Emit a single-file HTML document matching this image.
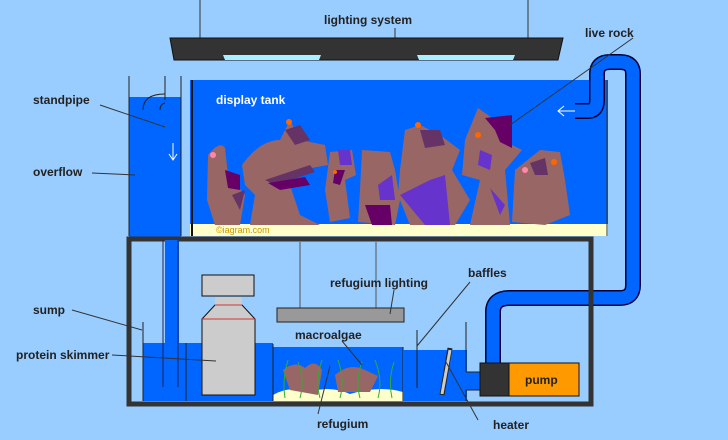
<!DOCTYPE html>
<html><head><style>
html,body{margin:0;padding:0;background:#99ccff;}
svg{display:block}
text{font-family:"Liberation Sans",sans-serif;font-weight:bold;font-size:12px;fill:#222}
</style></head><body>
<svg width="728" height="440" viewBox="0 0 728 440" xmlns="http://www.w3.org/2000/svg">
<rect width="728" height="440" fill="#99ccff"/>
<!-- hangers -->
<g stroke="#333" stroke-width="1">
<line x1="200" y1="0" x2="200" y2="38"/><line x1="528" y1="0" x2="528" y2="38"/><line x1="395" y1="28" x2="395" y2="38"/>
</g>
<polygon points="170,38 563,38 558,60 174,60" fill="#333" stroke="#111"/>
<polygon points="223,55 321,55 319,60 225,60" fill="#aaeeff"/>
<polygon points="417,55 515,55 513,60 419,60" fill="#aaeeff"/>
<!-- display tank water -->
<rect x="190" y="80" width="418" height="156" fill="#0066ff"/>
<rect x="190" y="224" width="418" height="12" fill="#ffffcc"/>
<line x1="192" y1="80" x2="192" y2="236" stroke="#111" stroke-width="2"/>
<line x1="607" y1="80" x2="607" y2="236" stroke="#333" stroke-width="1"/>
<!-- rocks -->
<g fill="#996666">
<path d="M208 155 Q220 140 225 148 L228 175 L245 195 L240 225 L215 225 L207 200 Z"/>
<path d="M242 165 Q260 140 280 140 L290 120 L300 140 L325 145 L328 165 L300 170 L290 185 L300 215 L320 225 L250 225 L255 195 L245 185 Z"/>
<path d="M330 152 L352 150 L356 175 L345 180 L350 218 L330 222 L325 190 Z"/>
<path d="M362 150 L390 152 L395 170 L400 200 L395 225 L358 222 L360 190 Z"/>
<path d="M405 130 L420 125 L440 135 L460 150 L452 170 L470 200 L455 225 L410 225 L398 195 L400 170 Z"/>
<path d="M465 140 L478 108 L495 120 L510 115 L512 145 L522 150 L505 170 L510 225 L470 225 L480 180 L462 175 Z"/>
<path d="M515 170 L540 150 L560 152 L565 180 L570 215 L545 225 L512 222 Z"/>
</g>
<g fill="#663366">
<path d="M265 180 L310 165 L315 172 L290 180 L275 185 Z"/>
<path d="M285 130 L300 125 L310 140 L295 145 Z"/>
<path d="M232 195 L245 190 L240 210 Z"/>
<path d="M420 130 L440 130 L445 145 L425 148 Z"/>
<path d="M530 163 L545 158 L548 175 L535 175 Z"/>
</g>
<g fill="#660066">
<path d="M225 170 L240 175 L240 190 L228 188 Z"/>
<path d="M268 183 L305 177 L310 185 L280 190 Z"/>
<path d="M335 170 L345 170 L340 185 L333 183 Z"/>
<path d="M485 118 L512 115 L512 148 L500 142 L495 130 Z"/>
<path d="M365 205 L390 205 L392 225 L372 225 Z"/>
</g>
<g fill="#6633cc">
<path d="M338 150 L350 150 L352 165 L340 165 Z"/>
<path d="M400 195 L430 180 L445 175 L450 225 L425 225 Z"/>
<path d="M378 185 L392 175 L395 200 L380 200 Z"/>
<path d="M480 150 L492 155 L490 170 L478 165 Z"/>
<path d="M490 188 L505 205 L500 215 Z"/>
</g>
<g fill="#ff6600"><circle cx="289" cy="122" r="3"/><circle cx="418" cy="125" r="3"/><circle cx="478" cy="135" r="3"/><circle cx="554" cy="162" r="3"/><circle cx="335" cy="172" r="2"/></g>
<g fill="#ff88aa"><circle cx="213" cy="155" r="3"/><circle cx="525" cy="170" r="3"/></g>
<text x="216" y="104" style="fill:#fff">display tank</text>
<text x="216" y="233" style="font-weight:normal;font-size:9px;fill:#cc9900">©iagram.com</text>
<!-- arrow in tank -->
<g stroke="#fff" stroke-width="1" fill="none"><line x1="558" y1="111" x2="578" y2="111"/><polyline points="564,106 558,111 564,116"/></g>
<!-- overflow box -->
<rect x="129" y="97" width="52" height="140" fill="#0066ff"/>
<line x1="129" y1="76" x2="129" y2="236" stroke="#222"/>
<line x1="181" y1="76" x2="181" y2="236" stroke="#222"/>
<line x1="165" y1="76" x2="165" y2="100" stroke="#222"/>
<path d="M143 110 Q143 94 165 94" stroke="#222" fill="none"/>
<rect x="165" y="103" width="14" height="290" fill="#0066ff"/>
<path d="M160 110 Q160 104 165 103" stroke="#222" fill="none"/>
<g stroke="#fff" fill="none"><line x1="173" y1="143" x2="173" y2="160"/><polyline points="169,154 173,160 177,154"/></g>
<!-- return pipe -->
<path d="M575 111 H588 Q597 111 597 100 V74 Q597 62 610 62 H620 Q633 62 633 74 V285 Q633 298 620 298 H510 Q493 298 493 312 V365" fill="none" stroke="#003" stroke-width="16"/>
<path d="M575 111 H588 Q597 111 597 100 V74 Q597 62 610 62 H620 Q633 62 633 74 V285 Q633 298 620 298 H510 Q493 298 493 312 V365" fill="none" stroke="#0066ff" stroke-width="13"/>
<!-- sump -->
<rect x="129" y="239" width="462" height="165" fill="none" stroke="#333" stroke-width="5"/>
<rect x="143" y="343" width="130" height="58" fill="#0066ff"/>
<rect x="165" y="240" width="14" height="147" fill="#0066ff"/>
<rect x="273" y="347" width="130" height="54" fill="#0066ff"/>
<path d="M273 395 Q290 385 310 392 Q330 385 350 394 Q380 385 403 392 V401 H273 Z" fill="#ffffcc"/>
<path d="M283 370 Q295 360 305 368 Q315 358 322 370 L318 395 L290 390 Z M335 375 Q350 362 365 370 L378 376 L370 392 L338 392 Z" fill="#996666"/>
<g stroke="#33aa33" fill="none"><path d="M285 398 Q282 380 288 360"/><path d="M300 398 Q305 380 298 362"/><path d="M320 398 Q315 380 322 360"/><path d="M340 398 Q345 380 338 360"/><path d="M360 398 Q355 380 362 362"/><path d="M378 398 Q383 380 375 360"/><path d="M392 398 Q388 380 394 362"/></g>
<line x1="273" y1="344" x2="273" y2="401" stroke="#222"/>
<line x1="403" y1="347" x2="403" y2="401" stroke="#222"/>
<rect x="403" y="350" width="64" height="51" fill="#0066ff"/>
<rect x="467" y="372" width="26" height="18" fill="#0066ff"/>
<g stroke="#222"><line x1="143" y1="322" x2="143" y2="401"/><line x1="186" y1="343" x2="186" y2="401"/><line x1="417" y1="330" x2="417" y2="388"/><line x1="466" y1="322" x2="466" y2="372"/><line x1="466" y1="390" x2="466" y2="401"/><line x1="466" y1="372" x2="480" y2="372"/><line x1="466" y1="390" x2="480" y2="390"/></g>
<line x1="163" y1="240" x2="163" y2="387" stroke="#225" stroke-width="1"/>
<line x1="178" y1="240" x2="178" y2="387" stroke="#225" stroke-width="1"/>
<line x1="450" y1="348" x2="442" y2="395" stroke="#222" stroke-width="5"/>
<line x1="450" y1="350" x2="442" y2="394" stroke="#ccc" stroke-width="3"/>
<!-- skimmer -->
<rect x="202" y="275" width="52" height="21" fill="#ccc" stroke="#111"/>
<rect x="215" y="297" width="27" height="8" fill="#ccc"/>
<polygon points="215,305 242,305 255,319 255,395 202,395 202,319" fill="#ccc" stroke="#111"/>
<line x1="215" y1="305" x2="242" y2="305" stroke="#cc3333"/><line x1="202" y1="319" x2="255" y2="319" stroke="#cc3333"/>
<!-- pump -->
<rect x="480" y="363" width="29" height="33" fill="#333" stroke="#111"/>
<rect x="509" y="363" width="70" height="33" fill="#ff9900" stroke="#111"/>
<text x="525" y="384">pump</text>
<!-- refugium light -->
<g stroke="#555"><line x1="300" y1="242" x2="300" y2="308"/><line x1="376" y1="242" x2="376" y2="308"/></g>
<rect x="277" y="308" width="127" height="14" fill="#999" stroke="#222"/>
<!-- labels and leaders -->
<g stroke="#333" stroke-width="1">
<line x1="100" y1="105" x2="165" y2="127"/>
<line x1="92" y1="173" x2="135" y2="175"/>
<line x1="633" y1="38" x2="510" y2="125"/>
<line x1="72" y1="310" x2="142" y2="330"/>
<line x1="112" y1="355" x2="216" y2="361"/>
<line x1="394" y1="290" x2="390" y2="314"/>
<line x1="470" y1="282" x2="417" y2="346"/>
<line x1="342" y1="341" x2="362" y2="365"/>
<line x1="318" y1="414" x2="330" y2="366"/>
<line x1="478" y1="420" x2="446" y2="362"/>
</g>
<text x="368" y="24" text-anchor="middle">lighting system</text>
<text x="585" y="37">live rock</text>
<text x="33" y="104">standpipe</text>
<text x="33" y="176">overflow</text>
<text x="33" y="314">sump</text>
<text x="16" y="359">protein skimmer</text>
<text x="330" y="287">refugium lighting</text>
<text x="468" y="277">baffles</text>
<text x="295" y="339">macroalgae</text>
<text x="317" y="428">refugium</text>
<text x="493" y="429">heater</text>
</svg>
</body></html>
